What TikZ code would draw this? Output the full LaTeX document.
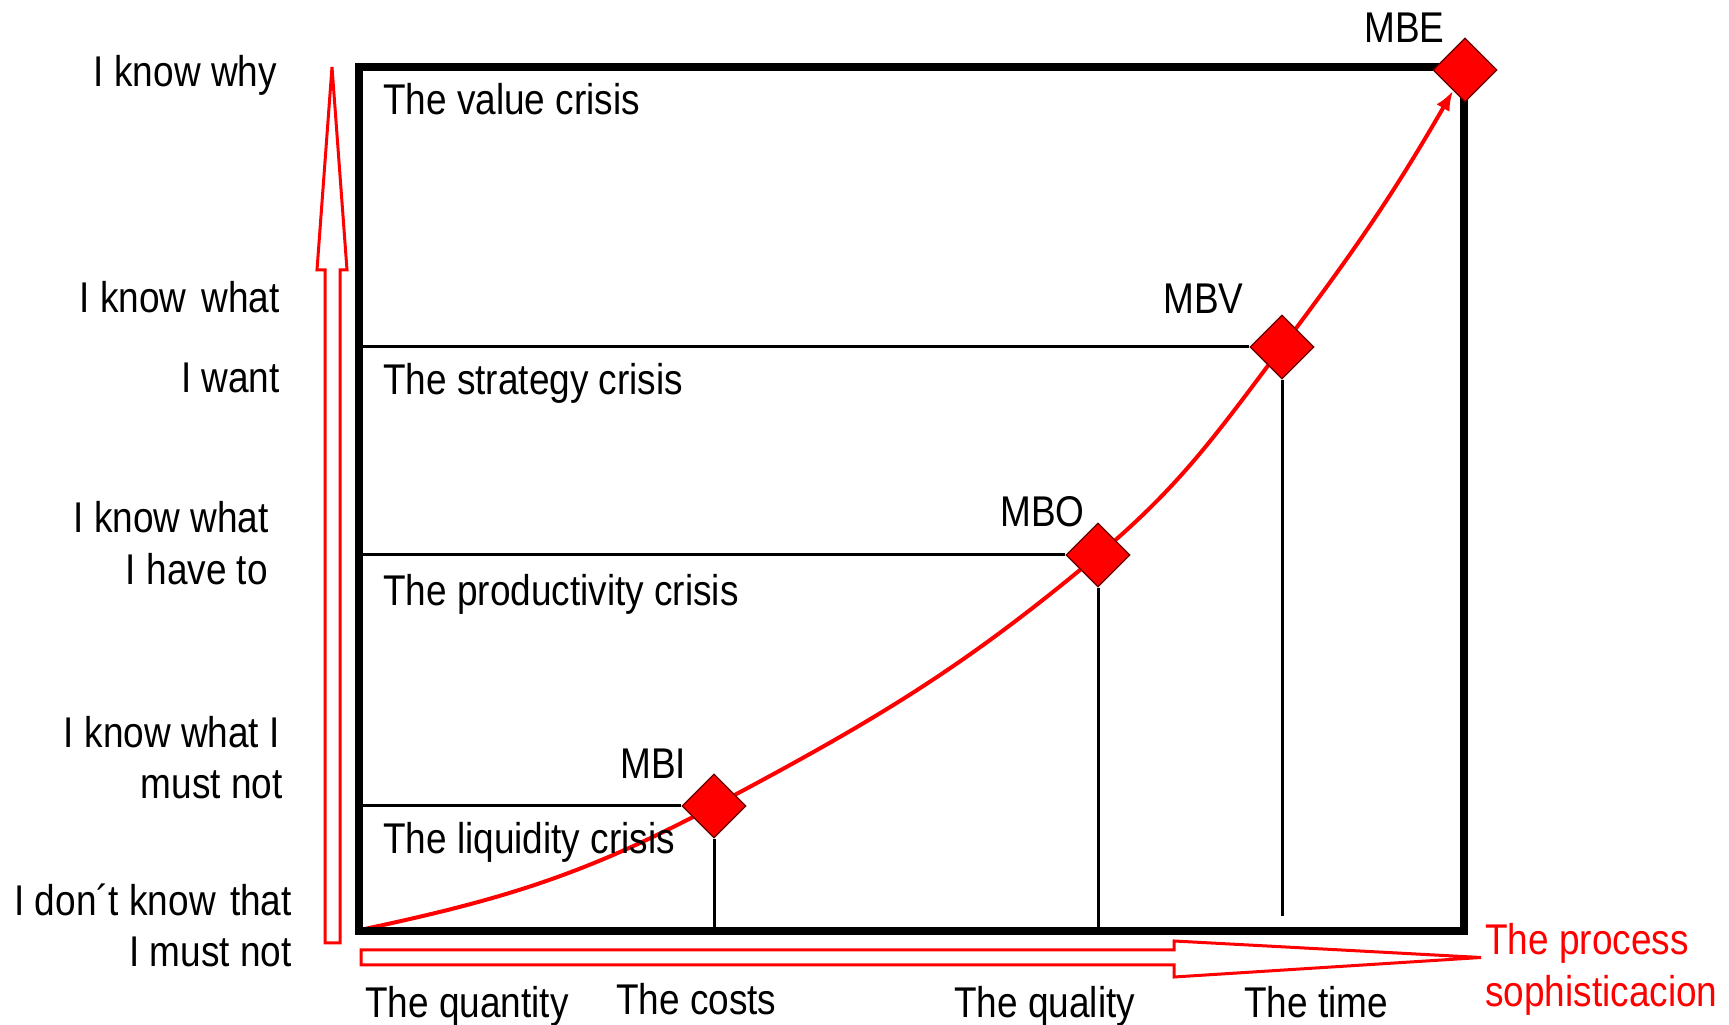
\documentclass[tikz,border=0pt]{standalone}
\usepackage{fontspec}
\setmainfont{Liberation Sans}[FakeStretch=0.86]
\usetikzlibrary{shapes.geometric,arrows.meta}
\pgfdeclarelayer{bg}
\pgfsetlayers{bg,main}
\begin{document}
\begin{tikzpicture}[x=1pt,y=1pt,
  lbl/.style={inner sep=0pt, font=\fontsize{43}{46}\selectfont},
  redlbl/.style={lbl, text=red},
  dmd/.style={diamond, fill=red, draw=red!40!black, line width=1.2pt, minimum size=64pt, inner sep=0pt},
  thinln/.style={line width=3pt},
  boxln/.style={line width=7.5pt},
  hollow/.style={draw=red, line width=3pt, line join=miter},
  curveln/.style={red, line width=4pt, -{Latex[length=20pt,width=15pt]}}
]
\useasboundingbox (0,0) rectangle (1729,1025);

% frame
\draw[boxln] (359,94) rectangle (1464,958);

% corner coordinates
\coordinate (O) at (360,95);
\coordinate (hI) at (359,219);
\coordinate (hO) at (359,470);
\coordinate (hV) at (359,678);
\coordinate (vI) at (714,94);
\coordinate (vO) at (1098,94);
\coordinate (vV) at (1282,109);

% diamonds
\node[dmd] (MBI) at (714,219) {};
\node[dmd] (MBO) at (1098,470) {};
\node[dmd] (MBV) at (1282,678) {};
\node[dmd] (MBE) at (1465,955) {};

% crisis lines
\draw[thinln] (hI) -- (MBI);
\draw[thinln] (hO) -- (MBO);
\draw[thinln] (hV) -- (MBV);
\draw[thinln] (MBI) -- (vI);
\draw[thinln] (MBO) -- (vO);
\draw[thinln] (MBV) -- (vV);

% growth curve
\begin{pgfonlayer}{bg}
\draw[curveln] (O) to[out=12,in=208] (MBI.center) to[out=28,in=220] (MBO.center)
  to[out=40,in=233] (MBV.center) to[out=53,in=240] (MBE);
\end{pgfonlayer}

% hollow axis arrows
\draw[hollow] (325,82) -- (325,755) -- (317,755) -- (332,958) -- (347,755) -- (340,755) -- (340,82) -- cycle;
\draw[hollow] (361,60) -- (361,75) -- (1174,75) -- (1174,84) -- (1481,67.5) -- (1174,48) -- (1174,60) -- cycle;

% diamond labels
\node[lbl, anchor=base west] (tMBI) at (620,246) {MBI};
\node[lbl, anchor=base west] (tMBO) at (1000,498) {MBO};
\node[lbl, anchor=base west] (tMBV) at (1163,711) {MBV};
\node[lbl, anchor=base west] (tMBE) at (1364,982) {MBE};

% crisis labels
\node[lbl, anchor=base west] (c1) at (383,910) {The value crisis};
\node[lbl, anchor=base west] (c2) at (383,630) {The strategy crisis};
\node[lbl, anchor=base west] (c3) at (383,419) {The productivity crisis};
\node[lbl, anchor=base west] (c4) at (383,171) {The liquidity crisis};

% left labels
\node[lbl, anchor=base east] (l1) at (277,938) {I know why};
\node[lbl, anchor=base east] (l2) at (280,712) {I know\hspace{5pt} what};
\node[lbl, anchor=base east] (l3) at (280,632) {I want};
\node[lbl, anchor=base east] (l4) at (269,492) {I know what};
\node[lbl, anchor=base east] (l5) at (268,440) {I have to};
\node[lbl, anchor=base east] (l6) at (280,277) {I know what I};
\node[lbl, anchor=base east] (l7) at (283,226) {must not};
\node[lbl, anchor=base east] (l8) at (292,109) {I don´t know\hspace{4pt} that};
\node[lbl, anchor=base east] (l9) at (292,58) {I must not};

% bottom labels
\node[lbl, anchor=base west] (b1) at (365,7) {The quantity};
\node[lbl, anchor=base west] (b2) at (616,10) {The costs};
\node[lbl, anchor=base west] (b3) at (954,7) {The quality};
\node[lbl, anchor=base west] (b4) at (1244,7) {The time};
\node[redlbl, anchor=base west] (r1) at (1485,70) {The process};
\node[redlbl, anchor=base west] (r2) at (1485,18) {sophisticacion};
\end{tikzpicture}
\end{document}
